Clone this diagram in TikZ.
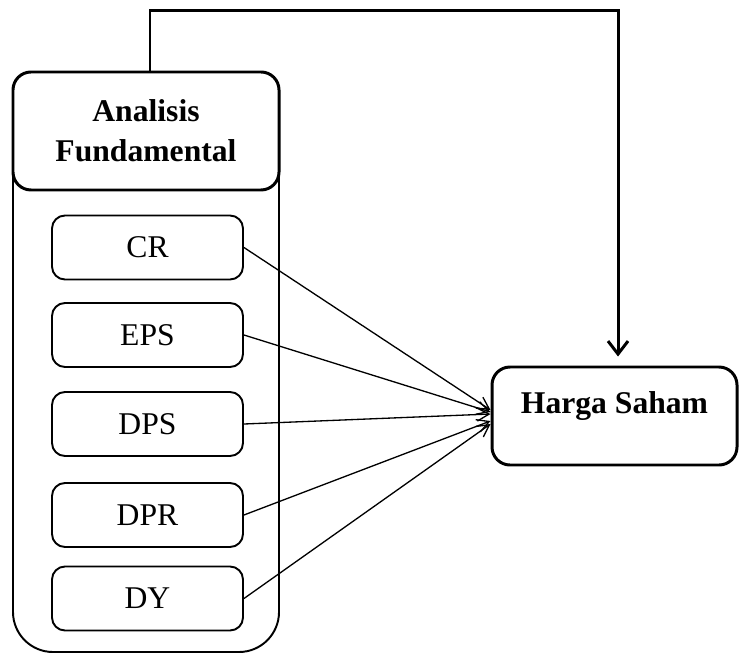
\documentclass[tikz,border=0pt]{standalone}
\usepackage{fontspec}
\setmainfont{Liberation Serif}
\usetikzlibrary{arrows.meta}
\begin{document}
\begin{tikzpicture}[x=0.2mm,y=-0.2mm,font=\fontsize{18}{23}\selectfont,>={Straight Barb[length=2.4mm,width=2.6mm]},
  head/.style={draw,line width=1.7pt,rounded corners=0.36cm,fill=white,inner sep=0pt,align=center,font=\fontsize{18}{23}\selectfont\bfseries},
  ratio/.style={draw,line width=1.1pt,rounded corners=0.26cm,minimum width=3.82cm,minimum height=1.28cm,inner sep=0pt}]
\useasboundingbox (0,0) rectangle (739,655);
\draw [line width=1.1pt,rounded corners=0.8cm] (13,160) -- (13,652) -- (279,652) -- (279,160);
\node [head,minimum width=5.32cm,minimum height=2.36cm] (af) at (146,131) {Analisis\\Fundamental};
\node [head,minimum width=4.9cm,minimum height=1.96cm,text height=0.6cm,text depth=0.72cm] (hs) at (614.5,416) {Harga Saham};
\node [ratio] (cr) at (147.5,247.5) {CR};
\node [ratio] (eps) at (147.5,335) {EPS};
\node [ratio] (dps) at (147.5,424) {DPS};
\node [ratio] (dpr) at (147.5,515) {DPR};
\node [ratio] (dy) at (147.5,598.5) {DY};
\draw [->,line width=0.75pt] (cr.east) -- ([yshift=0.12cm]hs.west);
\draw [->,line width=0.75pt] (eps.east) -- ([yshift=0.08cm]hs.west);
\draw [->,line width=0.75pt] (dps.east) -- ([yshift=0.04cm]hs.west);
\draw [->,line width=0.75pt] (dpr.east) -- ([yshift=-0.1cm]hs.west);
\draw [->,line width=0.75pt] (dy.east) -- ([yshift=-0.16cm]hs.west);
\draw [-{Straight Barb[length=2.6mm,width=4mm]},line width=1.7pt] ([xshift=0.08cm]af.north) -- ++(0,-60) -| ([xshift=0.07cm,yshift=0.18cm]hs.north);
\end{tikzpicture}
\end{document}
